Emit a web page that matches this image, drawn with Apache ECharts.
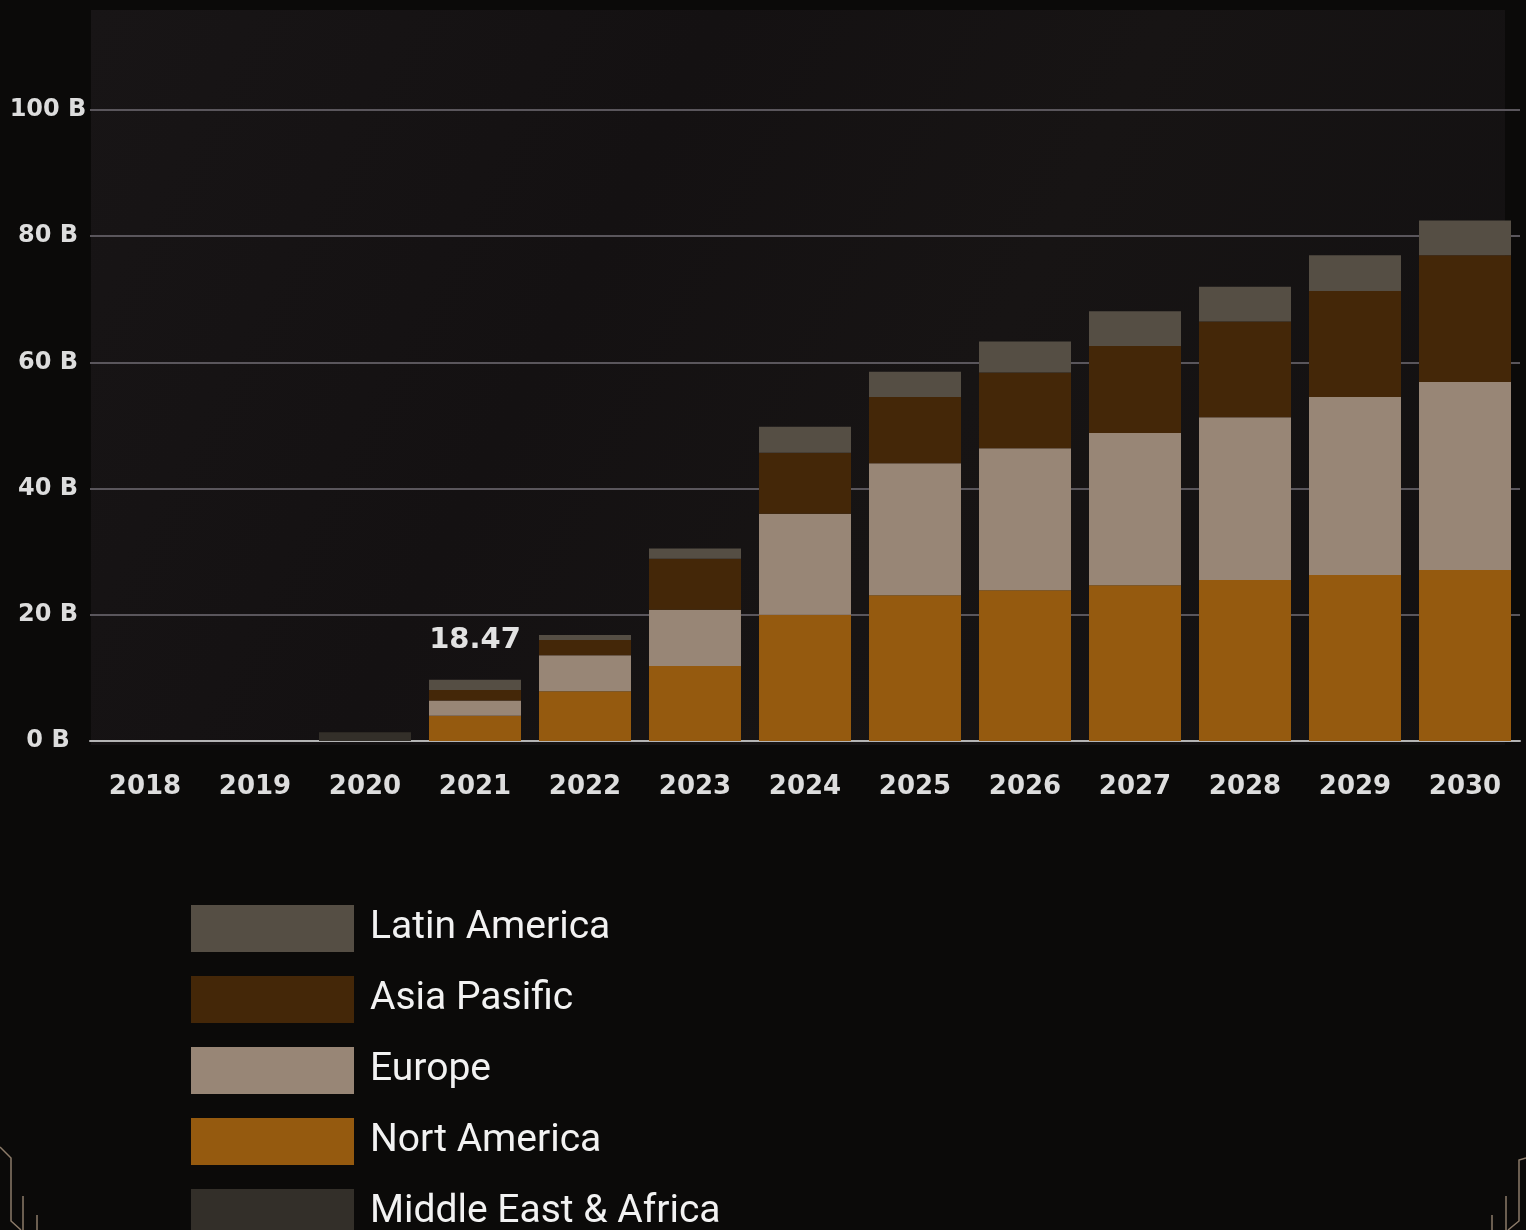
<!DOCTYPE html>
<html>
<head>
<meta charset="utf-8">
<style>
  html, body { margin: 0; padding: 0; background: #0a0908; }
  #chart { width: 1526px; height: 1230px; }
</style>
<script src="https://cdn.jsdelivr.net/npm/echarts@6/dist/echarts.min.js"></script>
</head>
<body>
<div id="chart"></div>
<script>
const years = ['2018','2019','2020','2021','2022','2023','2024','2025','2026','2027','2028','2029','2030'];
const middleEastAfrica = [0, 0, 1.4, 0, 0, 0, 0, 0, 0, 0, 0, 0, 0];
const northAmerica = [0, 0, 0, 4.0, 7.9, 11.9, 20.0, 23.1, 23.9, 24.7, 25.5, 26.3, 27.1];
const europe       = [0, 0, 0, 2.4, 5.7, 8.9, 16.0, 20.9, 22.5, 24.1, 25.8, 28.2, 29.8];
const asiaPacific  = [0, 0, 0, 1.7, 2.4, 8.1, 9.7, 10.5, 12.0, 13.8, 15.2, 16.8, 20.1];
const latinAmerica = [0, 0, 0, 1.6, 0.8, 1.6, 4.1, 4.0, 4.9, 5.5, 5.5, 5.7, 5.5];
const yTicks = { min: 0, max: 100, interval: 20, unit: 'B' };
const highlightIndex = 3;
const highlightLabel = '18.47';
const legendOrder = ['Latin America', 'Asia Pasific', 'Europe', 'Nort America', 'Middle East & Africa'];

const colors = {
  'Latin America': '#554e44',
  'Asia Pasific': '#442708',
  'Europe': '#988676',
  'Nort America': '#955a0f',
  'Middle East & Africa': '#332f29'
};

const chart = echarts.init(document.getElementById('chart'), null, { renderer: 'canvas' });

function mkSeries(name, data) {
  return {
    name: name,
    type: 'bar',
    stack: 'total',
    barWidth: 92,
    itemStyle: { color: colors[name] },
    emphasis: { disabled: true },
    data: data.slice()
  };
}

const latinData = latinAmerica.map((v, i) => i === highlightIndex ? {
  value: v,
  label: {
    show: true, position: 'top', distance: 25,
    formatter: highlightLabel,
    color: '#e2e2e2', fontSize: 29, fontWeight: 'bold',
    fontFamily: 'DejaVu Sans'
  }
} : v);

const series = [
  mkSeries('Middle East & Africa', middleEastAfrica),
  mkSeries('Nort America', northAmerica),
  mkSeries('Europe', europe),
  mkSeries('Asia Pasific', asiaPacific),
  Object.assign(mkSeries('Latin America', latinAmerica), { data: latinData })
];

const decoColor = '#8c7b69';
const option = {
  backgroundColor: '#0b0a09',
  animation: false,
  graphic: [
    {
      type: 'rect', z: -10, silent: true,
      shape: { x: 91, y: 10, width: 1414, height: 735 },
      style: {
        fill: new echarts.graphic.LinearGradient(0, 0, 1, 1, [
          { offset: 0, color: '#181516' },
          { offset: 0.35, color: '#141112' },
          { offset: 0.6, color: '#171414' },
          { offset: 1, color: '#121011' }
        ])
      }
    },
    { type: 'polyline', silent: true, shape: { points: [[0,1147],[11,1158],[11,1221],[21,1230]] }, style: { stroke: decoColor, lineWidth: 1.5, fill: null } },
    { type: 'line', silent: true, shape: { x1: 23, y1: 1196, x2: 23, y2: 1230 }, style: { stroke: decoColor, lineWidth: 1.5 } },
    { type: 'line', silent: true, shape: { x1: 37, y1: 1215, x2: 37, y2: 1230 }, style: { stroke: decoColor, lineWidth: 1.5 } },
    { type: 'polyline', silent: true, shape: { points: [[1526,1158],[1519,1160],[1519,1221],[1508,1230]] }, style: { stroke: decoColor, lineWidth: 1.5, fill: null } },
    { type: 'line', silent: true, shape: { x1: 1506, y1: 1196, x2: 1506, y2: 1230 }, style: { stroke: decoColor, lineWidth: 1.5 } },
    { type: 'line', silent: true, shape: { x1: 1492, y1: 1215, x2: 1492, y2: 1230 }, style: { stroke: decoColor, lineWidth: 1.5 } }
  ],
  grid: { left: 90, right: 6, top: 110, bottom: 489, containLabel: false },
  legend: {
    orient: 'vertical',
    left: 191,
    top: 905,
    height: 500,
    padding: 0,
    itemWidth: 163,
    itemHeight: 47,
    itemGap: 24,
    icon: 'rect',
    selectedMode: false,
    data: legendOrder,
    textStyle: {
      color: '#f2f2f2', fontSize: 39, fontFamily: 'Roboto',
      padding: [0, 0, 0, 11]
    }
  },
  xAxis: {
    type: 'category',
    data: years,
    axisLine: { show: true, lineStyle: { color: '#b4b4b4', width: 2 } },
    axisTick: { show: false },
    axisLabel: {
      color: '#dddddd', fontSize: 26, fontWeight: 'bold',
      fontFamily: 'DejaVu Sans', margin: 33
    },
    splitLine: { show: false }
  },
  yAxis: {
    type: 'value',
    min: yTicks.min, max: yTicks.max, interval: yTicks.interval,
    axisLine: { show: false },
    axisTick: { show: false },
    axisLabel: {
      formatter: '{value} ' + yTicks.unit,
      color: '#dddddd', fontSize: 24, fontWeight: 'bold',
      fontFamily: 'DejaVu Sans', align: 'center', margin: 42
    },
    splitLine: { show: true, lineStyle: { color: '#5a565c', width: 2 } }
  },
  series: series
};

chart.setOption(option);
</script>
</body>
</html>
